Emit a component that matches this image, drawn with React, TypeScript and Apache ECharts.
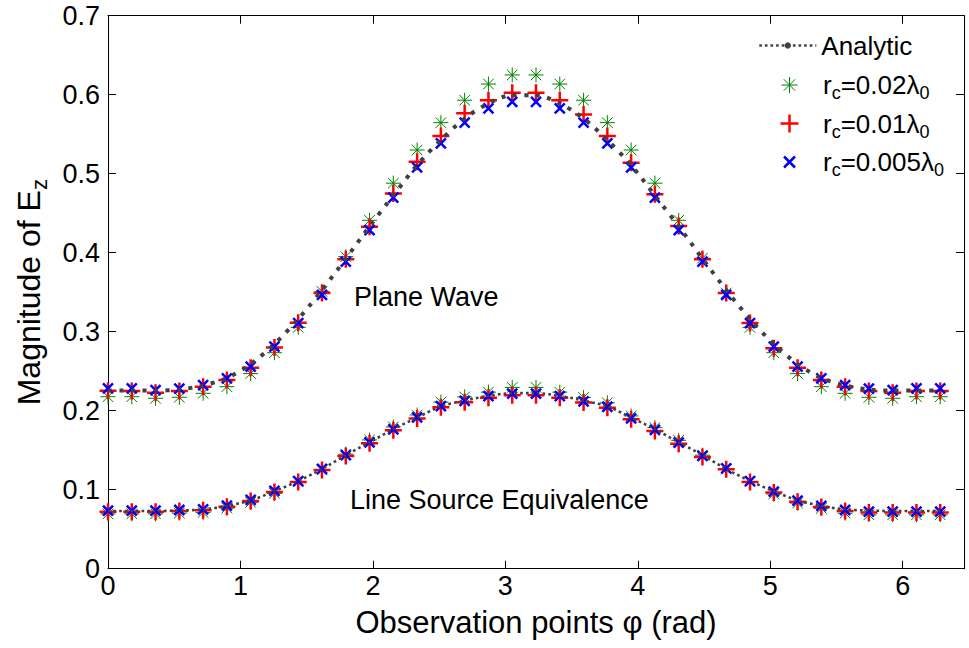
import React, { useEffect, useRef } from 'react';
import * as echarts from 'echarts';

// Observation angles (rad): 36 samples from 0 to 2*pi
const phi = [
  0, 0.1795, 0.359, 0.5386, 0.7181, 0.8976, 1.0771, 1.2566, 1.4362, 1.6157,
  1.7952, 1.9747, 2.1542, 2.3338, 2.5133, 2.6928, 2.8723, 3.0518, 3.2314, 3.4109,
  3.5904, 3.7699, 3.9494, 4.129, 4.3085, 4.488, 4.6675, 4.847, 5.0265, 5.2061,
  5.3856, 5.5651, 5.7446, 5.9241, 6.1037, 6.2832,
];

// Plane wave
const analyticPlane = [
  0.2255, 0.2255, 0.2255, 0.2268, 0.2319, 0.2414, 0.259, 0.2844, 0.316, 0.3528,
  0.3924, 0.4334, 0.4723, 0.511, 0.5427, 0.5698, 0.589, 0.5994, 0.5994, 0.589,
  0.5698, 0.5427, 0.511, 0.4723, 0.4334, 0.3924, 0.3528, 0.316, 0.2844, 0.259,
  0.2414, 0.2319, 0.2268, 0.2255, 0.2255, 0.2255,
];
const planeR002 = [
  0.2177, 0.2177, 0.2157, 0.217, 0.222, 0.2304, 0.247, 0.2734, 0.3055, 0.351,
  0.395, 0.441, 0.488, 0.53, 0.5646, 0.593, 0.6135, 0.625, 0.625, 0.6135,
  0.593, 0.5646, 0.53, 0.488, 0.441, 0.393, 0.349, 0.3055, 0.2734, 0.247,
  0.2304, 0.222, 0.217, 0.2157, 0.2177, 0.2177,
];
const planeR001 = [
  0.2253, 0.225, 0.2228, 0.225, 0.2304, 0.2389, 0.2545, 0.28, 0.3114, 0.349,
  0.3916, 0.4329, 0.475, 0.515, 0.5477, 0.5764, 0.593, 0.6025, 0.6025, 0.593,
  0.575, 0.5477, 0.514, 0.474, 0.4338, 0.3916, 0.349, 0.311, 0.279, 0.2544,
  0.2389, 0.2304, 0.225, 0.2228, 0.225, 0.225,
];
const planeR0005 = [
  0.2283, 0.2283, 0.226, 0.228, 0.2325, 0.241, 0.2557, 0.281, 0.311, 0.3465,
  0.3886, 0.4287, 0.4696, 0.508, 0.5385, 0.5646, 0.5828, 0.591, 0.591, 0.5828,
  0.5646, 0.5385, 0.508, 0.4696, 0.4287, 0.3886, 0.3465, 0.311, 0.281, 0.2557,
  0.241, 0.2325, 0.228, 0.226, 0.2283, 0.2283,
];

// Line source equivalence
const analyticLine = [
  0.073, 0.073, 0.073, 0.0737, 0.075, 0.0795, 0.0866, 0.098, 0.111, 0.1262,
  0.1437, 0.16, 0.1765, 0.1914, 0.2055, 0.2128, 0.2188, 0.2222, 0.2222, 0.2188,
  0.2128, 0.2055, 0.1914, 0.1765, 0.16, 0.1437, 0.1262, 0.111, 0.098, 0.0866,
  0.0795, 0.075, 0.0737, 0.073, 0.073, 0.073,
];
const lineR002 = [
  0.0694, 0.0694, 0.0694, 0.0703, 0.0712, 0.0767, 0.084, 0.0954, 0.11, 0.1252,
  0.1449, 0.163, 0.1795, 0.1946, 0.2109, 0.2175, 0.2235, 0.2295, 0.2295, 0.2235,
  0.2168, 0.21, 0.1934, 0.1786, 0.1625, 0.1437, 0.126, 0.11, 0.0945, 0.0831,
  0.0764, 0.0703, 0.0682, 0.0682, 0.0682, 0.0682,
];
const lineR001 = [
  0.0722, 0.0722, 0.0722, 0.073, 0.074, 0.0785, 0.0858, 0.0972, 0.1098, 0.125,
  0.1427, 0.1588, 0.1752, 0.1902, 0.2044, 0.2107, 0.2165, 0.2195, 0.2195, 0.2165,
  0.2103, 0.2038, 0.1892, 0.1744, 0.1583, 0.1415, 0.1258, 0.1098, 0.0963, 0.0849,
  0.0782, 0.0731, 0.071, 0.071, 0.071, 0.071,
];
const lineR0005 = [
  0.0734, 0.0734, 0.0734, 0.0743, 0.0752, 0.0797, 0.087, 0.0984, 0.111, 0.1262,
  0.1439, 0.16, 0.1765, 0.1916, 0.2059, 0.2125, 0.2185, 0.2215, 0.2215, 0.2185,
  0.2118, 0.205, 0.1904, 0.1756, 0.1595, 0.1427, 0.127, 0.111, 0.0975, 0.0861,
  0.0794, 0.0743, 0.0722, 0.0722, 0.0722, 0.0722,
];

const xTickValues = [0, 1, 2, 3, 4, 5, 6];
const legendLabels: Record<string, string> = {
  Analytic: '{n|Analytic}',
  rc002: '{n|r}{s|c}{n|=0.02λ}{s|0}',
  rc001: '{n|r}{s|c}{n|=0.01λ}{s|0}',
  rc0005: '{n|r}{s|c}{n|=0.005λ}{s|0}',
};

const FONT = '"Liberation Sans", Arial, Helvetica, sans-serif';
const STAR = 'path://M0,-1L0,1M-1,0L1,0M-0.7071,-0.7071L0.7071,0.7071M-0.7071,0.7071L0.7071,-0.7071';
const PLUS = 'path://M0,-1L0,1M-1,0L1,0';
const CROSS = 'path://M-1,-1L1,1M-1,1L1,-1';

const pts = (ys: number[]) => phi.map((x, i) => [x, ys[i]]);

const X_MAX = 6.4626;

export default function App() {
  const ref = useRef<HTMLDivElement>(null);

  useEffect(() => {
    if (!ref.current) return;
    const chart = echarts.init(ref.current, null, { renderer: 'svg' });

    const rich = {
      n: { fontSize: 26, fontFamily: FONT, color: '#000' },
      s: { fontSize: 18, fontFamily: FONT, color: '#000', padding: [16, 0, 0, 0] },
    };
    const axisLineStyle = { color: '#000', width: 1 };

    // one legend block per marker row so that each icon has its own size
    const markerLegend = (name: string, size: number, border: number, centerY: number) => ({
      data: [{ name, itemStyle: { borderWidth: border } }],
      left: 787 - size / 2, top: centerY - 14, padding: 0, itemWidth: 57, itemHeight: size,
      selectedMode: false, formatter: (n: string) => legendLabels[n],
      textStyle: { fontSize: 26, fontFamily: FONT, color: '#000', rich },
    });

    const option: any = {
      animation: false,
      backgroundColor: '#fff',
      grid: { left: 108, right: 5, top: 15.7, bottom: 79.3, containLabel: false, outerBoundsMode: 'none' },
      xAxis: [
        {
          type: 'value', position: 'bottom', min: 0, max: X_MAX, interval: 1,
          axisLine: { show: true, onZero: false, lineStyle: axisLineStyle },
          axisTick: { show: true, inside: true, length: 8, lineStyle: axisLineStyle },
          axisLabel: {
            show: true, margin: 2, fontSize: 27, fontFamily: FONT, color: '#000', lineHeight: 30,
            showMaxLabel: false,
            formatter: (v: number) => (xTickValues.indexOf(v) >= 0 ? String(v) : ''),
          },
          splitLine: { show: false },
          name: 'Observation points φ (rad)', nameLocation: 'middle', nameGap: 37,
          nameTextStyle: { fontSize: 31, fontFamily: FONT, color: '#000', lineHeight: 34 },
        },
        {
          type: 'value', position: 'top', min: 0, max: X_MAX, interval: 1,
          axisLine: { show: true, onZero: false, lineStyle: axisLineStyle },
          axisTick: { show: true, inside: true, length: 8, lineStyle: axisLineStyle },
          axisLabel: { show: false }, splitLine: { show: false },
        },
      ],
      yAxis: [
        {
          type: 'value', position: 'left', min: 0, max: 0.7, interval: 0.1,
          axisLine: { show: true, onZero: false, lineStyle: axisLineStyle },
          axisTick: { show: true, inside: true, length: 8, lineStyle: axisLineStyle },
          axisLabel: {
            show: true, margin: 8, fontSize: 27, fontFamily: FONT, color: '#000',
            formatter: (v: number) => (v === 0 ? '0' : v.toFixed(1)),
          },
          splitLine: { show: false },
          name: '{n|Magnitude of E}{s|z}', nameLocation: 'middle', nameGap: 58,
          nameTextStyle: {
            fontSize: 32, fontFamily: FONT, color: '#000',
            rich: {
              n: { fontSize: 32, fontFamily: FONT, color: '#000' },
              s: { fontSize: 22, fontFamily: FONT, color: '#000', padding: [20, 0, 0, 0] },
            },
          },
        },
        {
          type: 'value', position: 'right', min: 0, max: 0.7, interval: 0.1,
          axisLine: { show: true, onZero: false, lineStyle: axisLineStyle },
          axisTick: { show: true, inside: true, length: 8, lineStyle: axisLineStyle },
          axisLabel: { show: false }, splitLine: { show: false },
        },
      ],
      legend: [
        {
          data: ['Analytic'], left: 758, top: 32.5, padding: 0, itemWidth: 57, itemHeight: 8,
          selectedMode: false, formatter: (n: string) => legendLabels[n],
          textStyle: { fontSize: 26, fontFamily: FONT, color: '#000', rich },
          lineStyle: { width: 2.6, type: [2.6, 3], color: '#404040' },
          itemStyle: { borderWidth: 0, color: '#404040' },
        },
        markerLegend('rc002', 16, 1, 86),
        markerLegend('rc001', 18, 2.5, 124.5),
        markerLegend('rc0005', 11, 2.5, 163),
      ],
      series: [
        {
          name: 'Analytic', type: 'line', data: pts(analyticLine), smooth: 0.3,
          symbol: 'circle', showSymbol: false, silent: true,
          lineStyle: { color: '#404040', width: 2.6, type: [2.6, 3], cap: 'butt' },
          itemStyle: { color: '#404040' },
        },
        {
          name: 'Analytic', type: 'line', data: pts(analyticPlane), smooth: 0.3,
          symbol: 'circle', showSymbol: false, silent: true,
          lineStyle: { color: '#404040', width: 4, type: [4, 7.5], cap: 'butt' },
          itemStyle: { color: '#404040' },
        },
        {
          name: 'rc002', type: 'scatter', data: pts(planeR002).concat(pts(lineR002)),
          symbol: STAR, symbolSize: 15, symbolKeepAspect: true, silent: true,
          itemStyle: { color: 'none', borderColor: '#008000', borderWidth: 1, opacity: 1 },
        },
        {
          name: 'rc001', type: 'scatter', data: pts(planeR001).concat(pts(lineR001)),
          symbol: PLUS, symbolSize: 17, symbolKeepAspect: true, silent: true,
          itemStyle: { color: 'none', borderColor: '#ff0000', borderWidth: 2.5, opacity: 1 },
        },
        {
          name: 'rc0005', type: 'scatter', data: pts(planeR0005).concat(pts(lineR0005)),
          symbol: CROSS, symbolSize: 10, symbolKeepAspect: true, silent: true,
          itemStyle: { color: 'none', borderColor: '#0000ff', borderWidth: 2.5, opacity: 1 },
        },
      ],
      graphic: [
        {
          type: 'text', x: 354, y: 297, silent: true,
          style: { text: 'Plane Wave', fontSize: 27, fontFamily: FONT, fill: '#000', align: 'left', verticalAlign: 'middle' },
        },
        {
          type: 'text', x: 350, y: 500, silent: true,
          style: { text: 'Line Source Equivalence', fontSize: 27, fontFamily: FONT, fill: '#000', align: 'left', verticalAlign: 'middle' },
        },
      ],
    };

    chart.setOption(option);
    return () => chart.dispose();
  }, []);

  return (
    <div
      ref={ref}
      style={{ position: 'fixed', left: 0, top: 0, width: 969, height: 648, background: '#fff' }}
    />
  );
}
